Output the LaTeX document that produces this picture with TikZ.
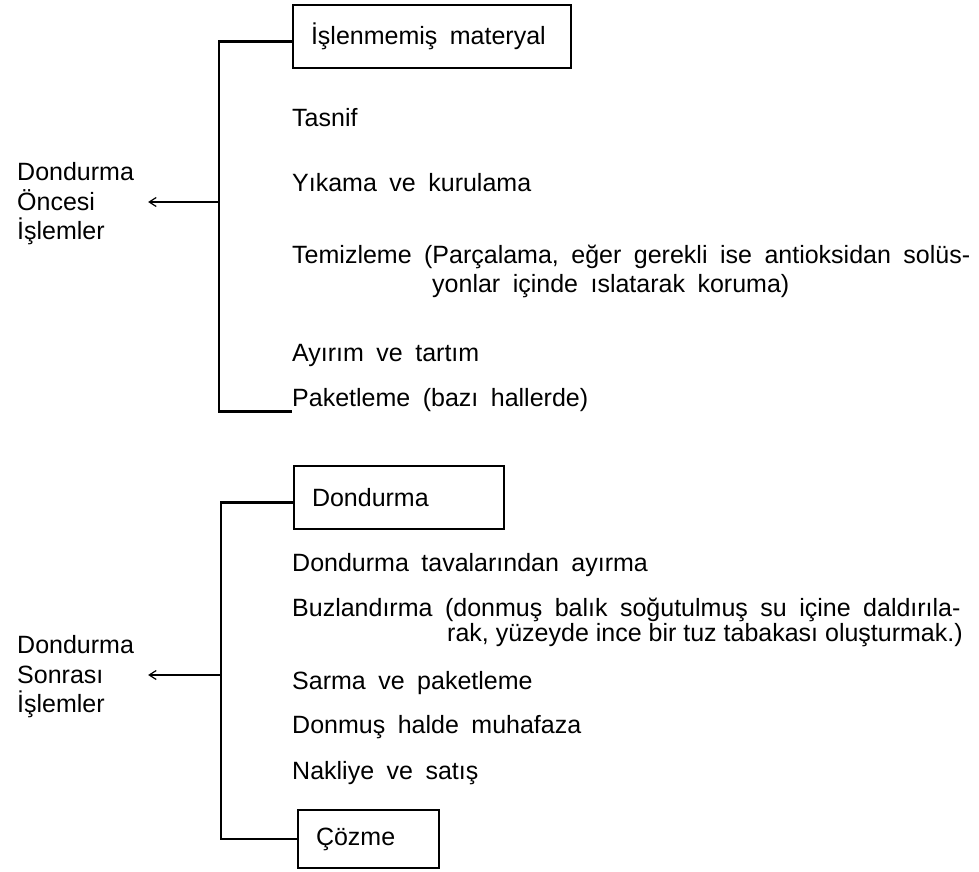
\documentclass[tikz,border=0pt]{standalone}
\usepackage{fontspec}
\setmainfont{Liberation Sans}
\usepackage{tikz}
\usetikzlibrary{arrows.meta}

\begin{document}
\begin{tikzpicture}[x=1pt, y=-1pt,
    every node/.style={font=\fontsize{25}{29.5}\selectfont, execute at begin node={\spaceskip=12.5pt\relax}},
    item/.style={anchor=base west, inner sep=0pt},
    tight/.style={execute at begin node={\spaceskip=0pt\relax}},
    lbl/.style={anchor=west, inner sep=0pt, align=left},
    box/.style={draw, line width=2pt, anchor=west, inner xsep=18pt, inner ysep=0pt, align=left},
    brace/.style={line width=2.8pt},
    arr/.style={-{Straight Barb[length=7pt, width=9pt]}, line width=1.2pt}]
    \useasboundingbox (0,0) rectangle (979,872);

    % oncesi
    \node[box, text width=242pt, minimum height=63pt] (raw) at (292,36.5) {İşlenmemiş materyal};
    \node[item] (tasnif) at (292,126) {Tasnif};
    \node[item] (yika) at (292,191) {Yıkama ve kurulama};
    \node[item] (temiz) at (292,263) {Temizleme (Parçalama, eğer gerekli ise antioksidan solüs-};
    \node[item] (temiz2) at (432,292) {yonlar içinde ıslatarak koruma)};
    \node[item] (ayir) at (292,361) {Ayırım ve tartım};
    \node[item] (paket) at (292,406) {Paketleme (bazı hallerde)};
    \node[lbl] (once) at (17,204) {Dondurma\\Öncesi\\İşlemler};

    \coordinate (k1) at (219,412);
    \coordinate (a1) at (218,202);
    \draw[brace] ([yshift=-5pt]raw.west) -| (k1 |- paket.south west) -- (paket.south west);
    \draw[arr] (a1) -- ([xshift=14pt]a1 -| once.east);

    % sonrasi
    \node[box, text width=174pt, minimum height=63pt] (frz) at (293,497.5) {Dondurma};
    \node[item] (tava) at (292,571) {Dondurma tavalarından ayırma};
    \node[item] (buz) at (292,616) {Buzlandırma (donmuş balık soğutulmuş su içine daldırıla-};
    \node[item, tight] (buz2) at (447,641) {rak, yüzeyde ince bir tuz tabakası oluşturmak.)};
    \node[item] (sarma) at (292,689) {Sarma ve paketleme};
    \node[item] (donmus) at (292,733) {Donmuş halde muhafaza};
    \node[item] (nakliye) at (292,779) {Nakliye ve satış};
    \node[box, text width=105pt, minimum height=58pt] (coz) at (297,839) {Çözme};
    \node[lbl] (sonra) at (17,677) {Dondurma\\Sonrası\\İşlemler};

    \coordinate (k2) at (221,839);
    \coordinate (a2) at (221,675);
    \draw[brace] ([yshift=-5pt]frz.west) -| (k2 |- coz.west) -- (coz.west);
    \draw[arr] (a2) -- ([xshift=14pt]a2 -| sonra.east);
\end{tikzpicture}
\end{document}
